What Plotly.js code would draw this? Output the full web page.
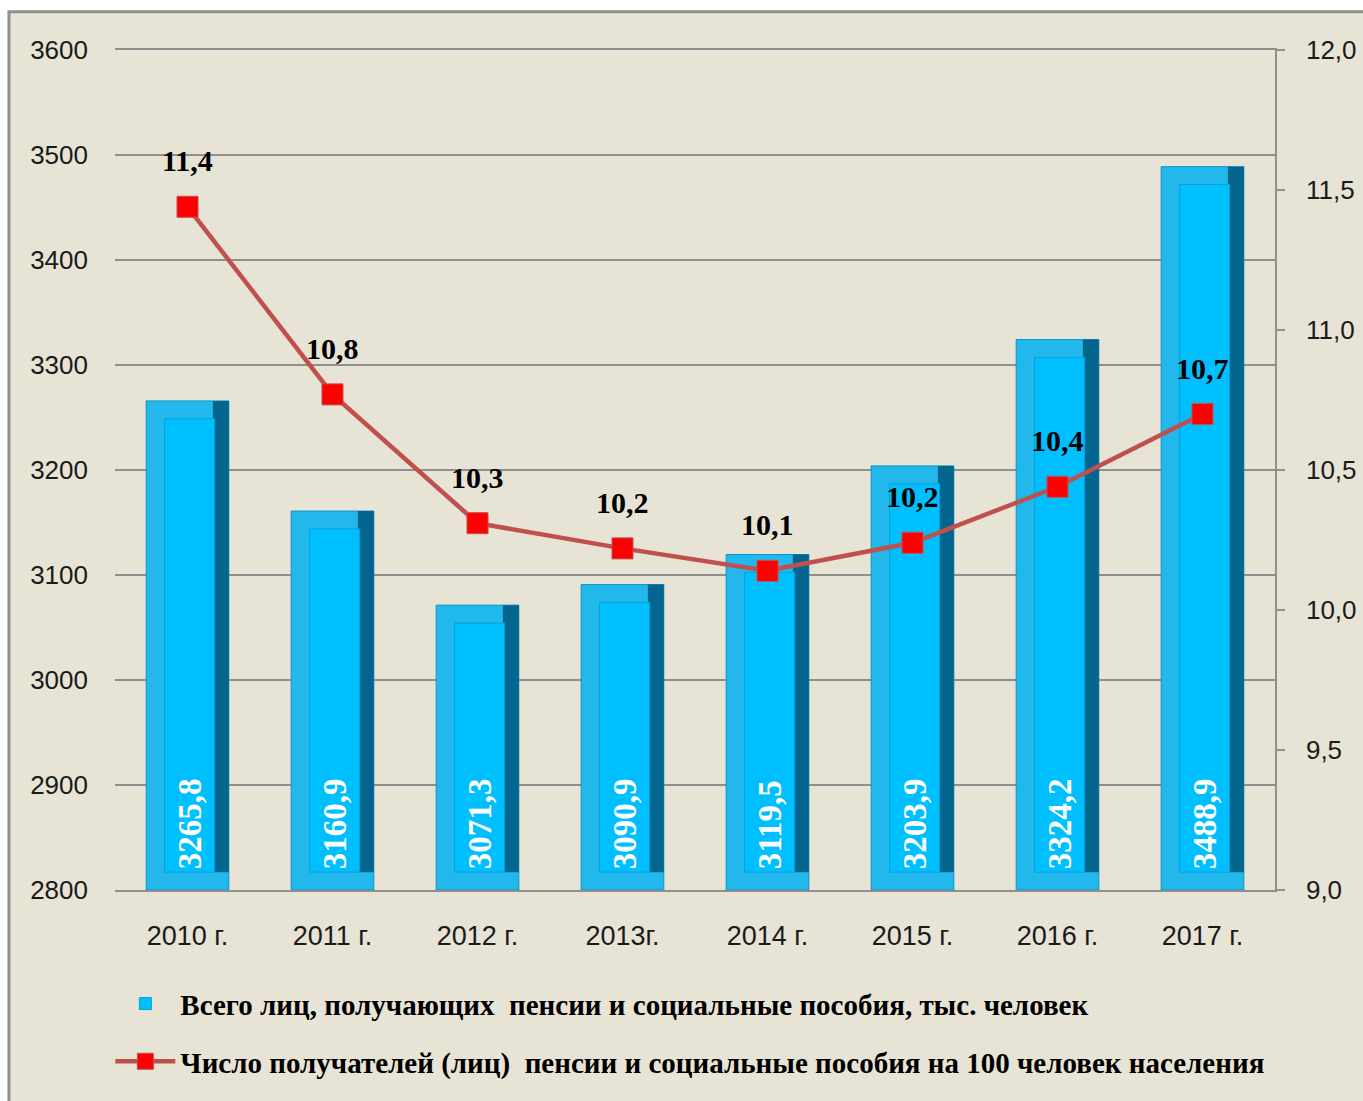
<!DOCTYPE html>
<html>
<head>
<meta charset="utf-8">
<script src="https://cdn.plot.ly/plotly-3.0.1.min.js"></script>
<style>
  html, body { margin: 0; padding: 0; background: #ffffff; }
  #chart { width: 1363px; height: 1101px; }
</style>
</head>
<body>
<div id="chart"></div>
<script>
// Годы
const years = ['2010 г.', '2011 г.', '2012 г.', '2013г.', '2014 г.', '2015 г.', '2016 г.', '2017 г.'];
// Всего лиц, получающих пенсии и социальные пособия, тыс. человек
const recipients = [3265.8, 3160.9, 3071.3, 3090.9, 3119.5, 3203.9, 3324.2, 3488.9];
// Число получателей на 100 человек населения
const per100 = [11.44, 10.77, 10.31, 10.22, 10.14, 10.24, 10.44, 10.70];

const barName = 'Всего лиц, получающих\u00a0 пенсии и социальные пособия, тыс. человек';
const lineName = 'Число получателей (лиц)\u00a0 пенсии и социальные пособия на 100 человек населения';

const yMin = 2800;
const bevel = 17; // толщина «фаски» столбца в единицах оси
const fmt = v => v.toFixed(1).replace('.', ',');

const serif = '"Liberation Serif", "Times New Roman", serif';
const sans = '"Liberation Sans", Arial, sans-serif';
const gray = '#8f8f8f';

// внешний контур столбца
const barOuter = {
  x: years, y: recipients.map(v => v - yMin), base: yMin,
  type: 'bar', width: 0.57,
  marker: { color: '#22b8ec', line: { color: '#0b93c6', width: 1 } },
  showlegend: false, hoverinfo: 'skip'
};
// тёмная правая грань
const barShade = {
  x: years, y: recipients.map(v => v - yMin - bevel), base: yMin + bevel,
  type: 'bar', width: 0.11, offset: 0.175,
  marker: { color: '#04668f', line: { width: 0 } },
  showlegend: false, hoverinfo: 'skip'
};
// лицевая грань с подписью
const barFace = {
  x: years, y: recipients.map(v => v - yMin - 2 * bevel), base: yMin + bevel,
  type: 'bar', width: 0.345, offset: -0.158,
  name: barName, legendgroup: 'a',
  marker: { color: '#00bfff', line: { color: '#0aa0d8', width: 1 } },
  text: recipients.map(fmt),
  textposition: 'inside', insidetextanchor: 'start', textangle: -90,
  constraintext: 'none',
  textfont: { family: serif, size: 33, color: '#ffffff', weight: 'bold' },
  hovertemplate: '%{x}: %{text}<extra></extra>'
};

const line = {
  x: years, y: per100, yaxis: 'y2',
  type: 'scatter', mode: 'lines+markers',
  name: lineName, legendgroup: 'b',
  line: { color: '#c0504d', width: 4.5 },
  marker: { symbol: 'square', size: 21, color: '#ff0000', line: { color: '#c0504d', width: 1 } }
};

const labels = years.map((c, i) => ({
  x: c, y: per100[i], xref: 'x', yref: 'y2',
  text: '<b>' + fmt(per100[i]) + '</b>',
  showarrow: false, yshift: 46,
  font: { family: serif, size: 30, color: '#000000' }
}));

const layout = {
  width: 1363, height: 1101,
  margin: { l: 115, r: 88, t: 50, b: 211 },
  paper_bgcolor: '#ffffff',
  plot_bgcolor: 'rgba(0,0,0,0)',
  separators: ', ',
  barmode: 'overlay',
  bargap: 0.43,
  font: { family: sans, size: 26, color: '#1a1a1a' },
  shapes: [{
    type: 'rect', xref: 'paper', yref: 'paper', layer: 'below',
    x0: -0.0914, x1: 1.2, y0: -0.4, y1: 1.0455,
    fillcolor: '#e7e3d5', line: { color: gray, width: 3 }
  }],
  xaxis: {
    type: 'category', showgrid: false, zeroline: false,
    showline: true, mirror: true, linecolor: gray, linewidth: 1.5,
    ticks: '', ticklabelstandoff: 21,
    tickfont: { family: sans, size: 27, color: '#1a1a1a' }
  },
  yaxis: {
    range: [2800, 3600], dtick: 100, tickformat: 'd',
    showgrid: true, gridcolor: gray, gridwidth: 1.5,
    zeroline: false, showline: false, ticks: '',
    ticklabelstandoff: 26,
    tickfont: { family: sans, size: 26, color: '#1a1a1a' }
  },
  yaxis2: {
    overlaying: 'y', side: 'right',
    range: [9, 12], dtick: 0.5, tickformat: '.1f',
    showgrid: false, zeroline: false,
    showline: true, linecolor: gray, linewidth: 1.5,
    ticks: 'outside', ticklen: 8, tickcolor: gray, tickwidth: 1.5,
    ticklabelstandoff: 16,
    tickfont: { family: sans, size: 26, color: '#1a1a1a' }
  },
  legend: {
    orientation: 'v', x: -0.004, xanchor: 'left', y: -0.105, yanchor: 'top',
    traceorder: 'grouped', tracegroupgap: 17,
    itemwidth: 60, bgcolor: 'rgba(0,0,0,0)',
    font: { family: serif, size: 29, color: '#000000', weight: 'bold' }
  },
  annotations: labels
};

Plotly.newPlot('chart', [barOuter, barShade, barFace, line], layout, { displayModeBar: false, responsive: false });
</script>
</body>
</html>
